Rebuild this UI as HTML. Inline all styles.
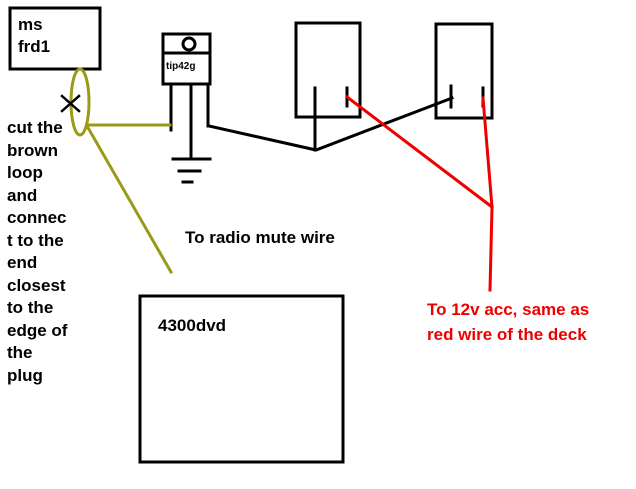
<!DOCTYPE html><html><head><style>
body{margin:0;background:#fff;width:636px;height:489px;overflow:hidden;position:relative;font-family:"Liberation Sans",Arial,sans-serif;font-weight:bold}
.t{position:absolute;font-size:17px;line-height:22.5px;white-space:nowrap}
</style></head><body>
<svg width="636" height="489" style="position:absolute;left:0;top:0" fill="none" stroke-linecap="square">
<rect x="10" y="8" width="90" height="61" stroke="#000" stroke-width="3"/>
<rect x="163" y="34" width="47" height="50" stroke="#000" stroke-width="3"/>
<line x1="163" y1="53" x2="210" y2="53" stroke="#000" stroke-width="3"/>
<circle cx="189" cy="44" r="6" stroke="#000" stroke-width="3"/>
<path d="M171 84V130M191 84V158M208 84V126" stroke="#000" stroke-width="3"/>
<path d="M173 159H210M179 171H200M183 182H192" stroke="#000" stroke-width="3"/>
<rect x="296" y="23" width="64" height="94" stroke="#000" stroke-width="3"/>
<rect x="436" y="24" width="56" height="94" stroke="#000" stroke-width="3"/>
<path d="M315 88V150M347 88V106M451 86V107M483 88V106" stroke="#000" stroke-width="3"/>
<path d="M209 126L316 150L452 98" stroke="#000" stroke-width="3"/>
<path d="M347 97L492 207M483 98L492 207L490 290" stroke="#e00" stroke-width="3"/>
<ellipse cx="80" cy="102" rx="9" ry="33" stroke="#9a9a1a" stroke-width="3"/>
<path d="M88 125H170M87 126L171 272" stroke="#9a9a1a" stroke-width="3"/>
<path d="M62 96L79 111M62 111L79 96" stroke="#000" stroke-width="2.5"/>
<rect x="140" y="296" width="203" height="166" stroke="#000" stroke-width="3"/>
</svg>
<div class="t" style="left:18px;top:14px;line-height:22px">ms<br>frd1</div>
<div class="t" style="left:166px;top:61px;font-size:10px;line-height:12px">tip42g</div>
<div class="t" style="left:7px;top:117px">cut the<br>brown<br>loop<br>and<br>connec<br>t to the<br>end<br>closest<br>to the<br>edge of<br>the<br>plug</div>
<div class="t" style="left:185px;top:227px">To radio mute wire</div>
<div class="t" style="left:158px;top:315px">4300dvd</div>
<div class="t" style="left:427px;top:297px;color:#e00;line-height:25px">To 12v acc, same as<br>red wire of the deck</div>
</body></html>
